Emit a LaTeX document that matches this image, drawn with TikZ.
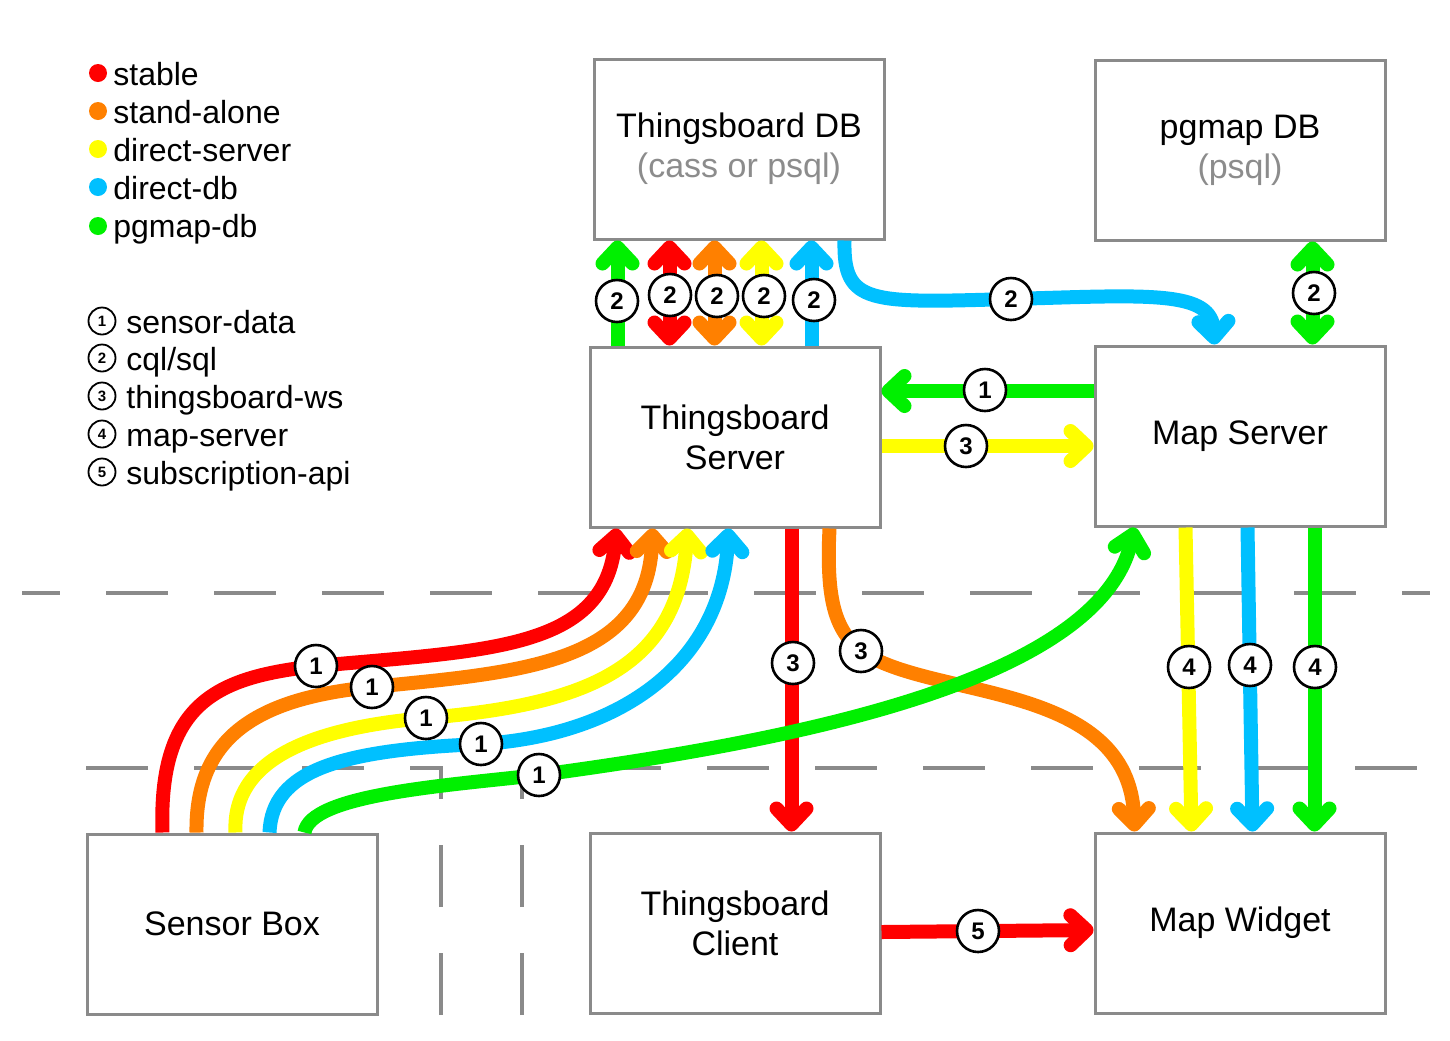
\documentclass[tikz,border=0pt]{standalone}
\usepackage{fontspec}
\setmainfont{Liberation Sans}
\usetikzlibrary{arrows.meta,calc}
\definecolor{cRed}{HTML}{FF0000}
\definecolor{cOrange}{HTML}{FF8000}
\definecolor{cYellow}{HTML}{FFFF00}
\definecolor{cBlue}{HTML}{00C0FF}
\definecolor{cGreen}{HTML}{00F000}
\definecolor{boxgray}{HTML}{8A8A8A}
\definecolor{subgray}{HTML}{8C8C8C}
\tikzset{
  box/.style={draw=boxgray, line width=1.5pt, minimum width=145pt, minimum height=90pt,
    inner sep=2pt, align=center, font=\fontsize{17}{20}\selectfont},
  flow/.style={line width=7pt},
  num/.style={circle, draw=black, line width=1.3pt, fill=white, minimum size=21pt,
    inner sep=0pt, font=\fontsize{12}{12}\bfseries\selectfont},
  lnum/.style={circle, draw=black, line width=0.9pt, fill=white, minimum size=13.5pt,
    inner sep=0pt, font=\fontsize{7.5}{8}\bfseries\selectfont},
  dot/.style={circle, fill=#1, minimum size=9pt, inner sep=0pt},
  legtext/.style={anchor=base west, inner sep=0pt, font=\fontsize{16}{18}\selectfont},
  zone/.style={draw=boxgray, line width=2pt, dash pattern=on 31pt off 23pt}
}
\begin{document}
\begin{tikzpicture}[x=0.5pt,y=-0.5pt,>={Straight Barb[length=8pt,width=15pt,round]}]
\useasboundingbox[fill=white] (0,0) rectangle (1450,1040);

% ---------- zone separators ----------
\draw[zone, dash phase=12pt] (22,593) -- (1430,593);
\draw[zone] (441,1015) -- (441,768) -- (60,768);
\draw[zone] (522,1015) -- (522,768) -- (1420,768);

% ---------- boxes ----------
\node[box] (tsdb) at (739,149) {Thingsboard DB\\\textcolor{subgray}{(cass or psql)}};
\node[box] (pgdb) at (1240,150) {pgmap DB\\\textcolor{subgray}{(psql)}};
\node[box] (tss)  at (735,437) {Thingsboard\\Server};
\node[box] (ms)   at (1240,436) {Map Server};
\node[box] (sb)   at (232,924) {Sensor Box};
\node[box] (tc)   at (735,923) {Thingsboard\\Client};
\node[box] (mw)   at (1240,923) {Map Widget};

% ---------- legend ----------
\node[dot=cRed]    (d1) at (98,73)  {};
\node[dot=cOrange] (d2) at (98,111) {};
\node[dot=cYellow] (d3) at (98,149) {};
\node[dot=cBlue]   (d4) at (98,187) {};
\node[dot=cGreen]  (d5) at (98,226) {};
\node[legtext] (t1) at (113,85.5)  {stable};
\node[legtext] (t2) at (113,123.5) {stand-alone};
\node[legtext] (t3) at (113,161.5) {direct-server};
\node[legtext] (t4) at (113,199.5) {direct-db};
\node[legtext] (t5) at (113,237.5) {pgmap-db};

\node[lnum] (k1) at (102,321) {1};
\node[lnum] (k2) at (102,358) {2};
\node[lnum] (k3) at (102,396) {3};
\node[lnum] (k4) at (102,434) {4};
\node[lnum] (k5) at (102,472) {5};
\node[legtext] (m1) at (126,333) {sensor-data};
\node[legtext] (m2) at (126,370) {cql/sql};
\node[legtext] (m3) at (126,408) {thingsboard-ws};
\node[legtext] (m4) at (126,446) {map-server};
\node[legtext] (m5) at (126,484) {subscription-api};

% ---------- anchor points ----------
\coordinate (ag) at ($(tss.north west)+(29,0)$);
\coordinate (ar) at ($(tss.north west)+(81,0)$);
\coordinate (ao) at ($(tss.north west)+(126,0)$);
\coordinate (ay) at ($(tss.north west)+(173,0)$);
\coordinate (ab) at ($(tss.north west)+(223,0)$);
\coordinate (bstart) at ($(tsdb.south west)+(252,0)$);
\coordinate (bend)   at ($(ms.north west)+(121,0)$);
\coordinate (pg) at ($(ms.north west)+(219,0)$);
\coordinate (gms) at ($(ms.west)+(0,-45)$);
\coordinate (yts) at ($(tss.east)+(0,9)$);
\coordinate (rtc) at ($(tss.south west)+(203,0)$);
\coordinate (ots) at ($(tss.south west)+(241,0)$);
\coordinate (omw) at ($(mw.north west)+(41,0)$);
\coordinate (ys) at ($(ms.south west)+(92,0)$);
\coordinate (ye) at ($(mw.north west)+(98,0)$);
\coordinate (bs) at ($(ms.south west)+(154,0)$);
\coordinate (be) at ($(mw.north west)+(159,0)$);
\coordinate (gs) at ($(ms.south west)+(221,0)$);
\coordinate (rtm) at ($(tc.east)+(0,9)$);
\coordinate (rmw) at ($(mw.west)+(0,7)$);
\coordinate (s1) at ($(sb.north west)+(77,0)$);
\coordinate (s2) at ($(sb.north west)+(111,0)$);
\coordinate (s3) at ($(sb.north west)+(150,0)$);
\coordinate (s4) at ($(sb.north west)+(184,0)$);
\coordinate (s5) at ($(sb.north west)+(219,0)$);
\coordinate (e1) at ($(tss.south west)+(28,0)$);
\coordinate (e2) at ($(tss.south west)+(64,0)$);
\coordinate (e3) at ($(tss.south west)+(99,0)$);
\coordinate (e4) at ($(tss.south west)+(140,0)$);
\coordinate (e5) at ($(ms.south west)+(41,0)$);

% label positions
\coordinate (pb2) at (1011,299);
\coordinate (po3) at (861,651);
\coordinate (p1r) at (316,666);
\coordinate (p1o) at (372,687);
\coordinate (p1y) at (426,718);
\coordinate (p1b) at (481,744);
\coordinate (p1g) at (539,775);

% ---------- flows ----------
\draw[flow,cGreen,->]   (ag) -- (ag |- tsdb.south);
\draw[flow,cRed,<->]    (ar) -- (ar |- tsdb.south);
\draw[flow,cOrange,<->] (ao) -- (ao |- tsdb.south);
\draw[flow,cYellow,<->] (ay) -- (ay |- tsdb.south);
\draw[flow,cBlue,->]    (ab) -- (ab |- tsdb.south);

\draw[flow,cBlue,->] (bstart) .. controls (843,305) and (870,303) .. (pb2)
   .. controls (1150,295) and (1212,290) .. (bend);

\draw[flow,cGreen,<->] (pg |- pgdb.south) -- (pg);

\draw[flow,cGreen,->]  (gms) -- (gms -| tss.east);
\draw[flow,cYellow,->] (yts) -- (yts -| ms.west);

\draw[flow,cRed,->] (rtc) -- (rtc |- tc.north);
\draw[flow,cOrange,->] (ots) .. controls (826,600) and (835,630) .. (po3)
   .. controls (930,700) and (1130,680) .. (omw);

\draw[flow,cYellow,->] (ys) -- (ye);
\draw[flow,cBlue,->]   (bs) -- (be);
\draw[flow,cGreen,->]  (gs) -- (gs |- mw.north);

\draw[flow,cRed,->] (rtm) -- (rmw);

\draw[flow,cRed,->] (s1) .. controls (158,700) and (220,677) .. (p1r)
   .. controls (490,650) and (605,650) .. (e1);
\draw[flow,cOrange,->] (s2) .. controls (195,735) and (260,698) .. (p1o)
   .. controls (520,672) and (648,665) .. (e2);
\draw[flow,cYellow,->] (s3) .. controls (232,760) and (310,728) .. (p1y)
   .. controls (580,705) and (678,672) .. (e3);
\draw[flow,cBlue,->] (s4) .. controls (272,770) and (340,750) .. (p1b)
   .. controls (625,735) and (722,660) .. (e4);
\draw[flow,cGreen,->] (s5) .. controls (310,795) and (440,786) .. (p1g)
   .. controls (800,740) and (1100,680) .. (e5);

% ---------- labels ----------
\node[num] (n2a) at (617,301) {2};
\node[num] (n2b) at (670,295) {2};
\node[num] (n2c) at (717,296) {2};
\node[num] (n2d) at (764,296) {2};
\node[num] (n2e) at (814,300) {2};
\node[num] (n2f) at (pb2) {2};
\node[num] (n2g) at (1314,293) {2};
\node[num] (n1m) at (985,390) {1};
\node[num] (n3m) at (966,446) {3};
\node[num] (n1r) at (p1r) {1};
\node[num] (n1o) at (p1o) {1};
\node[num] (n1y) at (p1y) {1};
\node[num] (n1b) at (p1b) {1};
\node[num] (n1g) at (p1g) {1};
\node[num] (n3r) at (793,663) {3};
\node[num] (n3o) at (po3) {3};
\node[num] (n4y) at (1189,667) {4};
\node[num] (n4b) at (1250,665) {4};
\node[num] (n4g) at (1315,667) {4};
\node[num] (n5)  at (978,931) {5};
\end{tikzpicture}
\end{document}
